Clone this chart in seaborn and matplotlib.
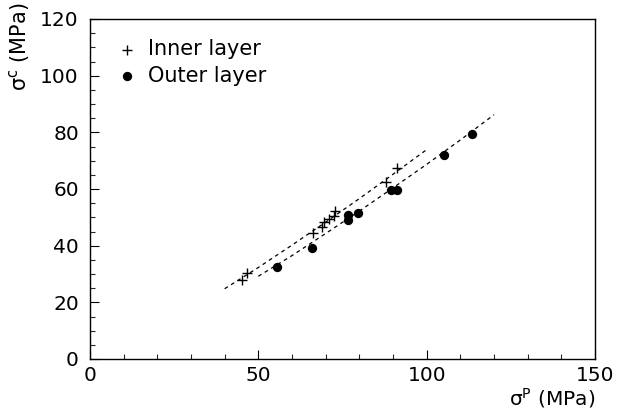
import matplotlib
matplotlib.use("Agg")
import matplotlib.pyplot as plt
import seaborn as sns
import numpy as np
import pandas as pd

# Data
inner_x = [45.0, 46.7, 66.1, 69.0, 69.5, 71.0, 72.5, 72.8, 87.9, 91.3]
inner_y = [28.0, 30.4, 44.5, 46.5, 48.5, 49.5, 50.5, 52.3, 62.5, 67.4]
outer_x = [55.4, 65.8, 76.7, 76.7, 79.7, 89.4, 91.1, 105.0, 113.5]
outer_y = [32.3, 39.2, 49.2, 50.7, 51.5, 59.8, 59.8, 72.1, 79.3]

# Fit curves
inner_fit_x = [40, 50, 60, 70, 80, 90, 100]
inner_fit_y = [24.8, 32.3, 40.2, 48.3, 56.6, 65.2, 73.9]
outer_fit_x = [50, 60, 70, 80, 90, 100, 110, 120]
outer_fit_y = [29.2, 36.5, 44.3, 52.2, 60.4, 68.7, 77.3, 86.2]

x_ticks = [0, 50, 100, 150]
y_ticks = [0, 20, 40, 60, 80, 100, 120]

sns.set_theme(style="ticks")
plt.rcParams["font.family"] = ["DejaVu Sans"]
plt.rcParams["mathtext.default"] = "regular"
plt.rcParams["text.color"] = "black"

fig = plt.figure(figsize=(6.18, 4.09), dpi=100)
ax = fig.add_axes([90 / 618, 1 - 359 / 409, 505 / 618, 340 / 409])

df_in = pd.DataFrame({"x": inner_fit_x, "y": inner_fit_y})
df_out = pd.DataFrame({"x": outer_fit_x, "y": outer_fit_y})
sns.lineplot(data=df_in, x="x", y="y", ax=ax, color="black", lw=0.9,
             dashes=False, linestyle=(0, (3, 3)), legend=False)
sns.lineplot(data=df_out, x="x", y="y", ax=ax, color="black", lw=0.9,
             dashes=False, linestyle=(0, (3, 3)), legend=False)

sns.scatterplot(x=inner_x, y=inner_y, ax=ax, marker="+", color="black",
                s=55, linewidth=1.0, label="Inner layer", zorder=3)
sns.scatterplot(x=outer_x, y=outer_y, ax=ax, marker="o", color="black",
                s=45, edgecolor="black", linewidth=0, label="Outer layer", zorder=3)

ax.set_xlim(0, 150)
ax.set_ylim(0, 120)
ax.set_xticks(x_ticks)
ax.set_yticks(y_ticks)
ax.set_xticks(np.arange(0, 151, 10), minor=True)
ax.set_yticks(np.arange(0, 121, 5), minor=True)
ax.tick_params(axis="both", which="major", direction="in", length=6.5, width=0.8,
               labelsize=14.5, colors="black")
ax.tick_params(axis="x", which="major", pad=5)
ax.tick_params(axis="y", which="major", pad=8)
ax.tick_params(axis="both", which="minor", direction="in", length=3.6, width=0.8)
for sp in ax.spines.values():
    sp.set_linewidth(1.0)
    sp.set_color("black")

ax.set_xlabel("")
ax.set_ylabel("")
fig.text(595 / 618, 1 - 405 / 409, r"$\sigma^{P}$ (MPa)", fontsize=14.5,
         ha="right", va="baseline")
fig.text(20 / 618, 1 - 2 / 409, r"$\sigma^{c}$ (MPa)", fontsize=15,
         rotation=90, ha="center", va="top")

leg = ax.legend(loc="upper left", bbox_to_anchor=(0.015, 0.995), frameon=False,
                fontsize=15, handlelength=1.0, handletextpad=0.5, labelspacing=0.3)
for t in leg.get_texts():
    t.set_color("black")

fig.savefig("out.png", dpi=100)
